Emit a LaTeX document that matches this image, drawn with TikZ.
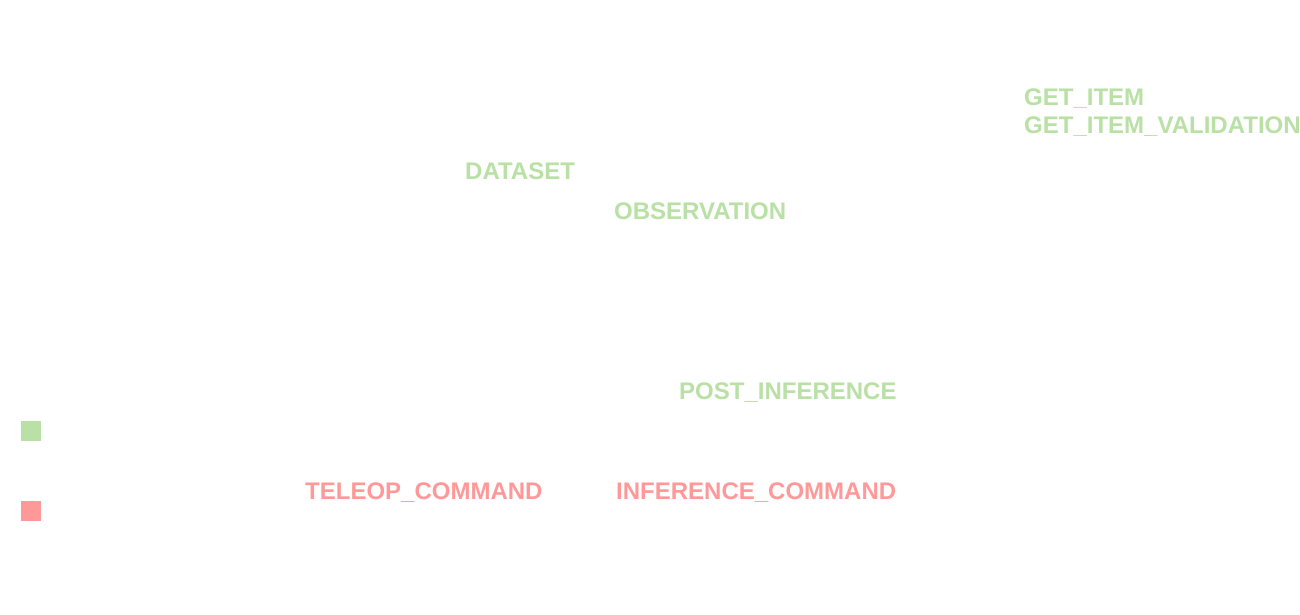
\documentclass[tikz,border=0pt]{standalone}
\usepackage{fontspec}
\setmainfont{Liberation Sans}
\definecolor{lgreen}{HTML}{B9E0A5}
\definecolor{lred}{HTML}{FF9999}
\begin{document}
\begin{tikzpicture}[x=1pt,y=-1pt,
  lbl/.style={inner sep=0pt,anchor=base west,font=\fontsize{24}{28}\selectfont\bfseries},
  glbl/.style={lbl,text=lgreen},
  rlbl/.style={lbl,text=lred},
  sq/.style={inner sep=0pt,minimum size=20pt,anchor=north west}]
\useasboundingbox[fill=white] (0,0) rectangle (1300,614);
\node[glbl] (getitem) at (1024,105.5) {GET\_ITEM};
\node[glbl] (getitemval) at (1024,133.5) {GET\_ITEM\_VALIDATION};
\node[glbl] (dataset) at (465,179.5) {DATASET};
\node[glbl] (obs) at (614,219.5) {OBSERVATION};
\node[glbl] (post) at (679,399.5) {POST\_INFERENCE};
\node[rlbl] (teleop) at (305,499.5) {TELEOP\_COMMAND};
\node[rlbl] (infcmd) at (616,499.5) {INFERENCE\_COMMAND};
\node[sq,fill=lgreen] (gsq) at (21,421) {};
\node[sq,fill=lred] (rsq) at (21,501) {};
\end{tikzpicture}
\end{document}
